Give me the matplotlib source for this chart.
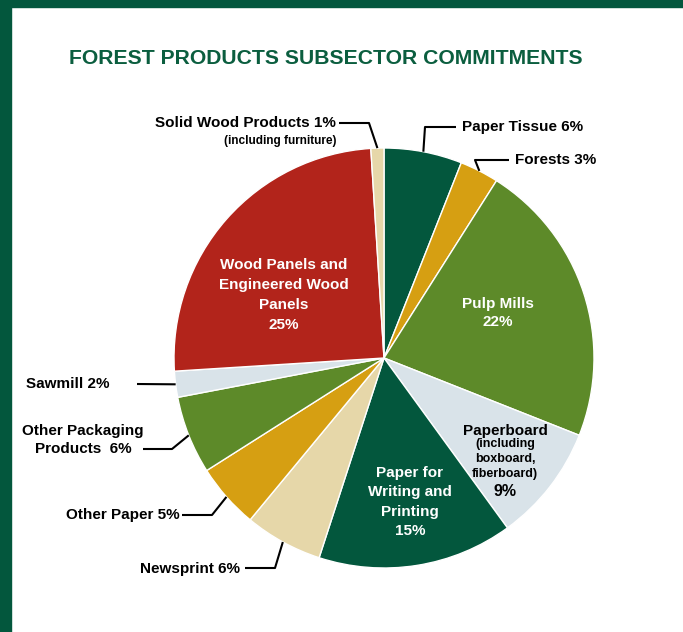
import numpy as np
import matplotlib
matplotlib.use("Agg")
import matplotlib.pyplot as plt
from matplotlib.patches import Rectangle

# data, clockwise from 12 o'clock
names = ["Paper Tissue", "Forests", "Pulp Mills", "Paperboard",
         "Paper for Writing and Printing", "Newsprint", "Other Paper",
         "Other Packaging Products", "Sawmill",
         "Wood Panels and Engineered Wood Panels", "Solid Wood Products"]
shares = [6, 3, 22, 9, 15, 6, 5, 6, 2, 25, 1]
colors = ["#03573d", "#d69f12", "#5d8a29", "#d9e3e9", "#03573d", "#e6d7a9",
          "#d69f12", "#5d8a29", "#d9e3e9", "#b2241b", "#e6d7a9"]

W, H = 683, 632
dark = "#03573d"
plt.rcParams['font.family'] = ['Liberation Sans', 'DejaVu Sans']

fig = plt.figure(figsize=(W / 100, H / 100), dpi=100)
ax = fig.add_axes([0, 0, 1, 1])

def fy(y):
    # pixel row (from top) -> axes y
    return H - y

cx, cy, R = 384, 358, 210
wedges, _ = ax.pie(shares, colors=colors, startangle=90, counterclock=False,
                   center=(cx, fy(cy)), radius=R, frame=True,
                   wedgeprops=dict(edgecolor="white", linewidth=1.0))
ax.set_xlim(0, W)
ax.set_ylim(0, H)
ax.set_aspect("equal")
ax.axis("off")

# border strips
fig.patches.append(Rectangle((0, 1 - 7 / H), 1, 7 / H, transform=fig.transFigure,
                             color=dark, zorder=0))
fig.patches.append(Rectangle((0, 0), 11 / W, 1, transform=fig.transFigure,
                             color=dark, zorder=0))

ax.text(326, fy(59), "FOREST PRODUCTS SUBSECTOR COMMITMENTS", ha="center",
        va="center", fontsize=15.2, fontweight="bold", color="#0b5e3f")

cum = np.cumsum([0] + shares)
mid_ang = [np.deg2rad(90 - 3.6 * (cum[i] + cum[i + 1]) / 2) for i in range(len(shares))]

def edge(i):
    a = mid_ang[i]
    return cx + R * np.cos(a), cy - R * np.sin(a)

def leader(i, elbow, end):
    x0, y0 = edge(i)
    ax.plot([x0, elbow[0], end[0]], [fy(y0), fy(elbow[1]), fy(end[1])],
            color="black", lw=1.5, solid_capstyle="butt", zorder=5)

fs = 11
bold = dict(fontweight="bold", fontsize=fs)

# outside labels
leader(0, (425, 127), (456, 127))
ax.text(462, fy(127), f"{names[0]} {shares[0]}%", ha="left", va="center", **bold)
leader(1, (475, 160), (509, 160))
ax.text(515, fy(160), f"{names[1]} {shares[1]}%", ha="left", va="center", **bold)
leader(10, (369, 123), (339, 123))
ax.text(336, fy(123), f"{names[10]} {shares[10]}%", ha="right", va="center", **bold)
ax.text(336, fy(141), "(including furniture)", ha="right", va="center",
        fontweight="bold", fontsize=8.5)
leader(8, (137, 384), (137, 384))
ax.text(26, fy(384), f"{names[8]} {shares[8]}%", ha="left", va="center", **bold)
leader(7, (172, 449), (143, 449))
ax.text(83, fy(440), f"Other Packaging\nProducts  {shares[7]}%", ha="center",
        va="center", linespacing=1.45, **bold)
leader(6, (212, 515), (182, 515))
ax.text(180, fy(515), f"{names[6]} {shares[6]}%", ha="right", va="center", **bold)
leader(5, (275, 568), (245, 568))
ax.text(240, fy(569), f"{names[5]} {shares[5]}%", ha="right", va="center", **bold)

# inside labels
ax.text(498, fy(313), f"Pulp Mills\n{shares[2]}%", ha="center", va="center",
        color="white", linespacing=1.45, **bold)
ax.text(284, fy(295), f"Wood Panels and\nEngineered Wood\nPanels\n{shares[9]}%",
        ha="center", va="center", color="white", linespacing=1.52, **bold)
ax.text(410, fy(502), f"Paper for\nWriting and\nPrinting\n{shares[4]}%",
        ha="center", va="center", color="white", linespacing=1.5, **bold)
ax.text(505, fy(431), names[3], ha="center", va="center", **bold)
ax.text(505, fy(459), "(including\nboxboard,\nfiberboard)", ha="center",
        va="center", fontweight="bold", fontsize=9, linespacing=1.35)
ax.text(505, fy(492), f"{shares[3]}%", ha="center", va="center",
        fontweight="bold", fontsize=11.5)

fig.savefig("out.png", dpi=100)
